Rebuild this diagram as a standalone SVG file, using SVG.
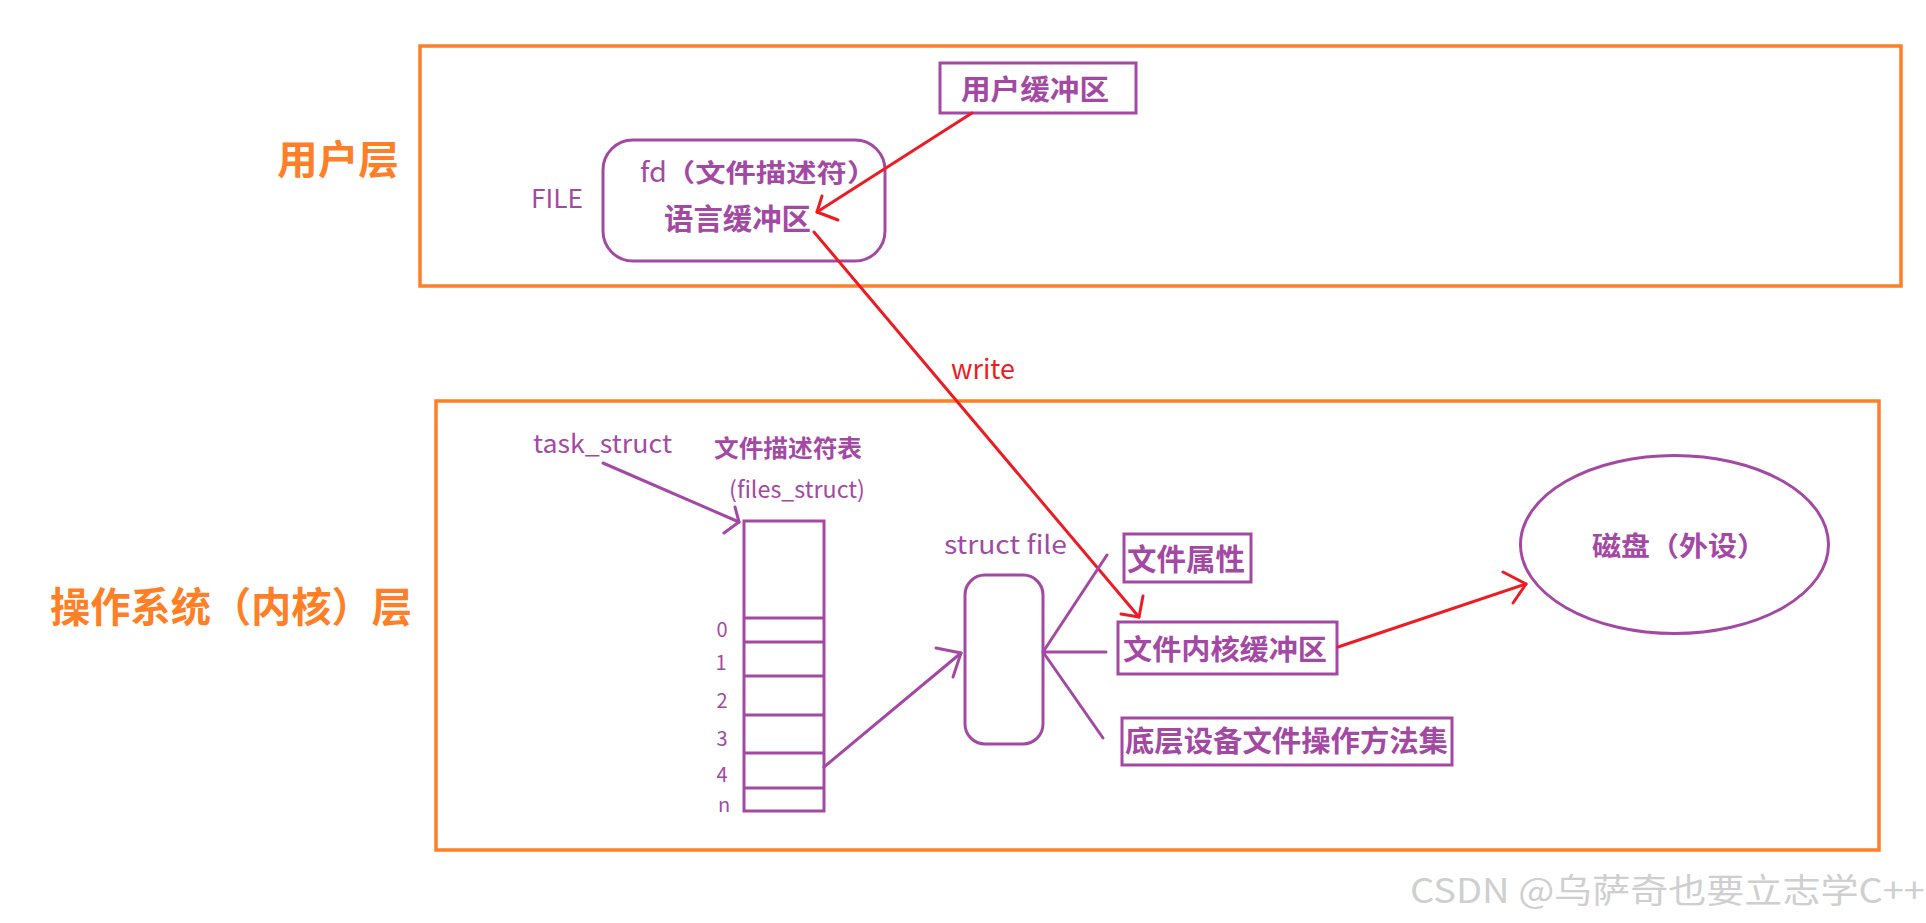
<svg xmlns="http://www.w3.org/2000/svg" width="1926" height="923" viewBox="0 0 1926 923">
<style>
.bg{fill:#ffffff}
.layer{fill:none;stroke:#FF7F27;stroke-width:3.5}
.box{fill:none;stroke:#A349A4;stroke-width:3}
.pl{fill:none;stroke:#A349A4;stroke-width:3;stroke-linecap:round;stroke-linejoin:round}
.rl{fill:none;stroke:#ED1C24;stroke-width:3;stroke-linecap:round;stroke-linejoin:round}
.cjk{font-family:"Noto Sans CJK SC","Noto Sans",sans-serif;font-weight:bold;fill:#A349A4}
.lat{font-family:"Noto Sans CJK SC","Noto Sans",sans-serif;font-weight:normal;fill:#A349A4}
.org{font-family:"Noto Sans CJK SC","Noto Sans",sans-serif;font-weight:bold;fill:#FF7F27}
.red{font-family:"Noto Sans CJK SC","Noto Sans",sans-serif;font-weight:normal;fill:#ED1C24}
.wm{font-family:"Noto Sans CJK SC","Liberation Sans",sans-serif;fill:#cfcfcf}
</style>
<rect class="bg" x="0" y="0" width="1926" height="923"/>

<g id="user-layer">
  <rect class="layer" x="420" y="46" width="1481" height="240"/>
  <text class="org" x="277" y="174" font-size="40" textLength="122" lengthAdjust="spacingAndGlyphs">用户层</text>
</g>

<g id="kernel-layer">
  <rect class="layer" x="436" y="401" width="1443" height="449"/>
  <text class="org" x="50" y="622" font-size="41" textLength="362" lengthAdjust="spacingAndGlyphs">操作系统（内核）层</text>
</g>

<g id="user-buffer">
  <rect class="box" x="940" y="63" width="196" height="50"/>
  <text class="cjk" x="961" y="100" font-size="28" textLength="148" lengthAdjust="spacingAndGlyphs">用户缓冲区</text>
</g>

<g id="file">
  <text class="lat" x="531" y="208" font-size="26" textLength="52" lengthAdjust="spacingAndGlyphs">FILE</text>
  <rect class="box" x="603" y="140" width="282" height="121" rx="30" ry="30"/>
  <text class="lat" x="640" y="182" font-size="28" textLength="27" lengthAdjust="spacingAndGlyphs">fd</text>
  <text class="cjk" x="665" y="182" font-size="25" textLength="212" lengthAdjust="spacingAndGlyphs">（文件描述符）</text>
  <text class="cjk" x="664" y="230" font-size="29" textLength="147" lengthAdjust="spacingAndGlyphs">语言缓冲区</text>
</g>

<g id="task-struct">
  <text class="lat" x="533" y="453" font-size="25" textLength="139" lengthAdjust="spacingAndGlyphs">task_struct</text>
</g>

<g id="files-struct">
  <text class="cjk" x="714" y="457" font-size="24" textLength="148" lengthAdjust="spacingAndGlyphs">文件描述符表</text>
  <text class="lat" x="729" y="498" font-size="23" textLength="136" lengthAdjust="spacingAndGlyphs">(files_struct)</text>
  <rect class="box" x="744" y="521" width="80" height="290"/>
  <path class="box" d="M744 618H824M744 642H824M744 676H824M744 715H824M744 753H824M744 788H824"/>
  <g class="lat" font-size="20" text-anchor="middle">
    <text x="722" y="637">0</text>
    <text x="721" y="670">1</text>
    <text x="722" y="708">2</text>
    <text x="722" y="746">3</text>
    <text x="722" y="782">4</text>
    <text x="724" y="812">n</text>
  </g>
</g>

<g id="struct-file">
  <text class="lat" x="944" y="554" font-size="25" textLength="123" lengthAdjust="spacingAndGlyphs">struct file</text>
  <rect class="box" x="965" y="575" width="78" height="169" rx="20" ry="20"/>
</g>

<g id="file-attr">
  <rect class="box" x="1124" y="534" width="127" height="48"/>
  <text class="cjk" x="1127" y="570" font-size="30" textLength="118" lengthAdjust="spacingAndGlyphs">文件属性</text>
</g>

<g id="kernel-buffer">
  <rect class="box" x="1118" y="622" width="219" height="52"/>
  <text class="cjk" x="1123" y="660" font-size="28" textLength="204" lengthAdjust="spacingAndGlyphs">文件内核缓冲区</text>
</g>

<g id="device-ops">
  <rect class="box" x="1122" y="718" width="330" height="47"/>
  <text class="cjk" x="1125" y="752" font-size="29" textLength="323" lengthAdjust="spacingAndGlyphs">底层设备文件操作方法集</text>
</g>

<g id="disk">
  <ellipse class="box" cx="1674.5" cy="544.5" rx="154" ry="89"/>
  <text class="cjk" x="1592" y="556" font-size="27" textLength="174" lengthAdjust="spacingAndGlyphs">磁盘（外设）</text>
</g>

<g id="connectors">
  <path class="rl" d="M972 113L817 212"/>
  <path class="rl" d="M822 196L817 212L838 220"/>
  <path class="rl" d="M814 232L1139 617"/>
  <path class="rl" d="M1143 596L1139 617L1121 614"/>
  <path class="rl" d="M1338 647L1526 584"/>
  <path class="rl" d="M1503 572L1526 584L1513 603"/>
  <text class="red" x="951" y="379" font-size="27" textLength="64" lengthAdjust="spacingAndGlyphs">write</text>
  <path class="pl" d="M603 463L739 522"/>
  <path class="pl" d="M735 507L739 522L724 533"/>
  <path class="pl" d="M824 767L961 653"/>
  <path class="pl" d="M936 648L961 653L953 677"/>
  <path class="pl" d="M1043 652L1107 555M1043 652L1106 652M1043 652L1103 738"/>
</g>

<text class="wm" x="1410" y="903" font-size="34" textLength="515" lengthAdjust="spacingAndGlyphs">CSDN @乌萨奇也要立志学C++</text>
</svg>
